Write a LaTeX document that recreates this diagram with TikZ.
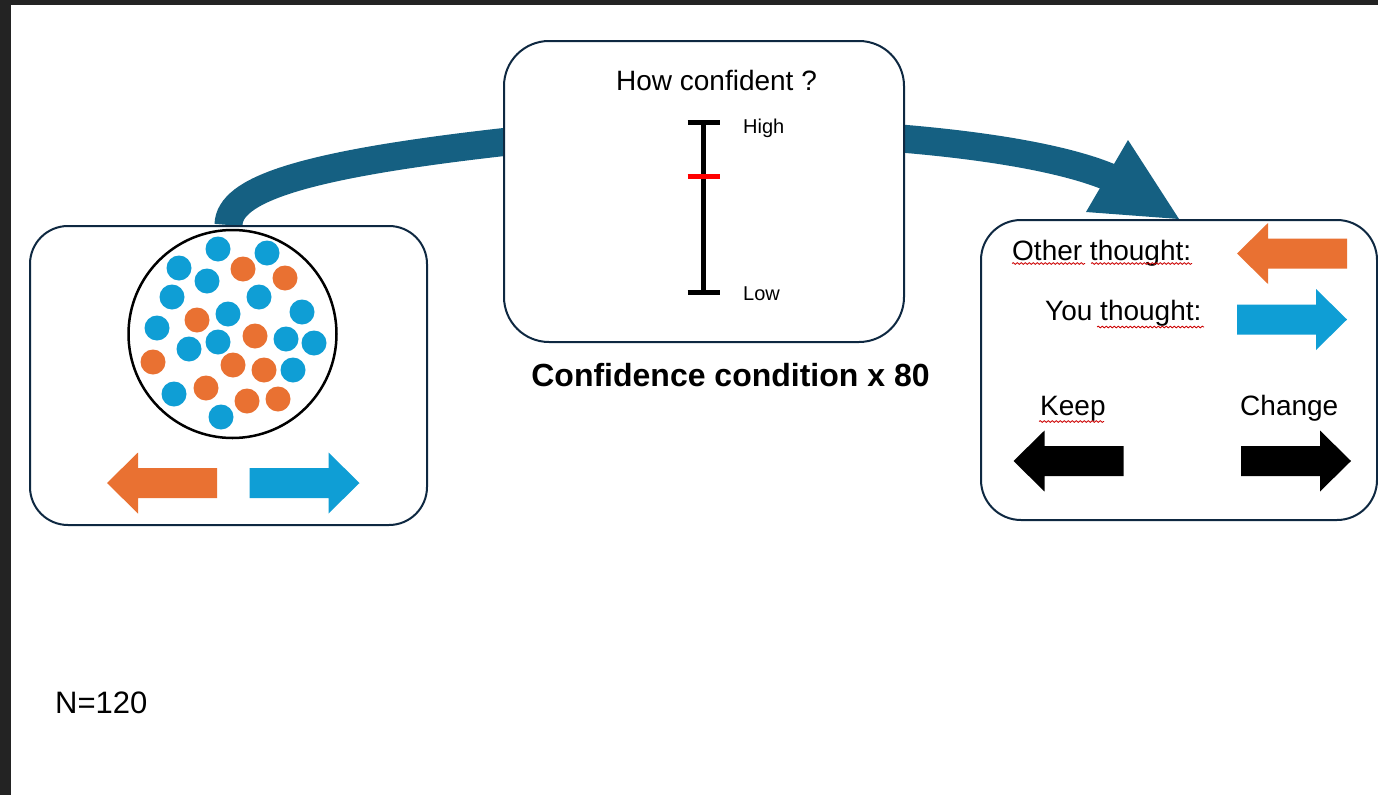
\documentclass[tikz,border=0pt]{standalone}
\usepackage{fontspec}
\setmainfont{Liberation Sans}
\usetikzlibrary{backgrounds, calc, decorations.pathmorphing}

\definecolor{frame}{HTML}{232323}
\definecolor{boxline}{HTML}{0E2841}
\definecolor{flow}{HTML}{156082}
\definecolor{dotblue}{HTML}{0F9ED5}
\definecolor{dotorange}{HTML}{E97132}

% block arrow: colour, centre x, centre y, direction (1 right, -1 left)
\newcommand{\blockarrow}[4]{%
  \begin{scope}[shift={(#2,#3)}, xscale=#4]
    \fill[#1] (-55,-15) -- (24,-15) -- (24,-30.5) -- (55,0) -- (24,30.5) -- (24,15) -- (-55,15) -- cycle;
  \end{scope}}

\begin{document}
\begin{tikzpicture}[
        x=1pt, y=-1pt,
        panel/.style={draw=boxline, line width=2pt, fill=white, rounded corners=#1, inner sep=0pt},
        txt/.style={font=\fontsize{28}{34}\selectfont, inner sep=0pt},
        tiny/.style={font=\fontsize{20}{24}\selectfont, inner sep=0pt},
        caption/.style={font=\bfseries\fontsize{32}{38}\selectfont, inner sep=0pt},
        bar/.style={line width=5pt},
        spell/.style={draw=red!80!black, line width=0.8pt, decorate, decoration={snake, amplitude=0.9pt, segment length=4pt}},
        flowband/.style={draw=flow, line width=28pt}
    ]
        \useasboundingbox (0,0) rectangle (1378,795);

        % Panels
        \node[panel=38pt, minimum width=397pt, minimum height=299pt] (stim) at (228.5,375.5) {};
        \node[panel=45pt, minimum width=400pt, minimum height=301pt] (conf) at (704,191.5) {};
        \node[panel=40pt, minimum width=396pt, minimum height=300pt] (choice) at (1179,370) {};

        % Stimulus: dot cloud
        \node[draw, circle, line width=2.5pt, minimum size=208pt, inner sep=0pt] (pool) at (232.5,334) {};
        \foreach \x/\y in {218/249, 267/253, 179/268, 207/281, 172/297, 259/297, 228/314, 302/312,
                           157/328, 218/342, 189/349, 286/339, 314/343, 293/370, 174/394, 221/417}
            \fill[dotblue] (\x,\y) circle (12.5pt);
        \foreach \x/\y in {243/269, 285/278, 197/320, 255/336, 153/362, 233/365, 264/370, 206/388,
                           247/401, 278/399}
            \fill[dotorange] (\x,\y) circle (12.5pt);
        \blockarrow{dotorange}{162}{483}{-1}
        \blockarrow{dotblue}{304.5}{483}{1}

        % Confidence scale
        \node[txt, anchor=base] (howconf) at (716.5,90) {How confident ?};
        \coordinate (scaletop) at (703.5,122.7);
        \coordinate (scalemid) at (703.5,176);
        \coordinate (scalebot) at (703.5,292.3);
        \draw[bar, line width=5.5pt] (scaletop) -- (scalebot);
        \draw[bar] ([xshift=-16pt]scaletop) -- ([xshift=16pt]scaletop);
        \draw[bar] ([xshift=-16pt]scalebot) -- ([xshift=16pt]scalebot);
        \draw[bar, red] ([xshift=-16pt]scalemid) -- ([xshift=16pt]scalemid);
        \node[tiny, anchor=base west] (highlbl) at (743,133) {High};
        \node[tiny, anchor=base west] (lowlbl) at (743,300.5) {Low};
        \node[caption, anchor=base] (condlbl) at (730.5,386.7) {Confidence condition x 80};

        % Choice panel
        \node[txt, anchor=base west] (other) at (1012,260) {Other thought:};
        \node[txt, anchor=base west] (you) at (1045,320) {You thought:};
        \node[txt, anchor=base west] (keep) at (1040,415) {Keep};
        \node[txt, anchor=base west] (change) at (1240,415) {Change};
        \draw[spell] ([yshift=-3.5pt]other.base west) -- ++(73,0);
        \draw[spell] ([xshift=79pt, yshift=-3.5pt]other.base west) -- ++(101,0);
        \draw[spell] ([xshift=52pt, yshift=-7pt]you.base west) -- ++(107,0);
        \draw[spell] ([xshift=-1pt, yshift=-6.5pt]keep.base west) -- ++(65,0);
        \blockarrow{dotorange}{1292}{253.5}{-1}
        \blockarrow{dotblue}{1292}{319.5}{1}
        \blockarrow{black}{1068.5}{461}{-1}
        \blockarrow{black}{1296}{461}{1}

        % Sample size
        \node[txt, font=\fontsize{31}{36}\selectfont, anchor=base west] (count) at (55,713) {N=120};

        % Background: page, frame and the flow arrow
        \begin{scope}[on background layer]
            \fill[white] (0,0) rectangle (1378,795);
            \fill[frame] (0,0) rectangle (1378,5);
            \fill[frame] (0,0) rectangle (11,795);
            \coordinate (headbase) at ($(choice.north)+(-70,-42)$);
            \draw[flowband] (stim.north) .. controls (229,190) and (300,165) .. (504,142)
                .. controls (700,120) and (1000,132) .. (headbase);
            \fill[flow] (choice.north) -- ++(-93,-7) -- ++(42,-72) -- cycle;
        \end{scope}
    \end{tikzpicture}
\end{document}
